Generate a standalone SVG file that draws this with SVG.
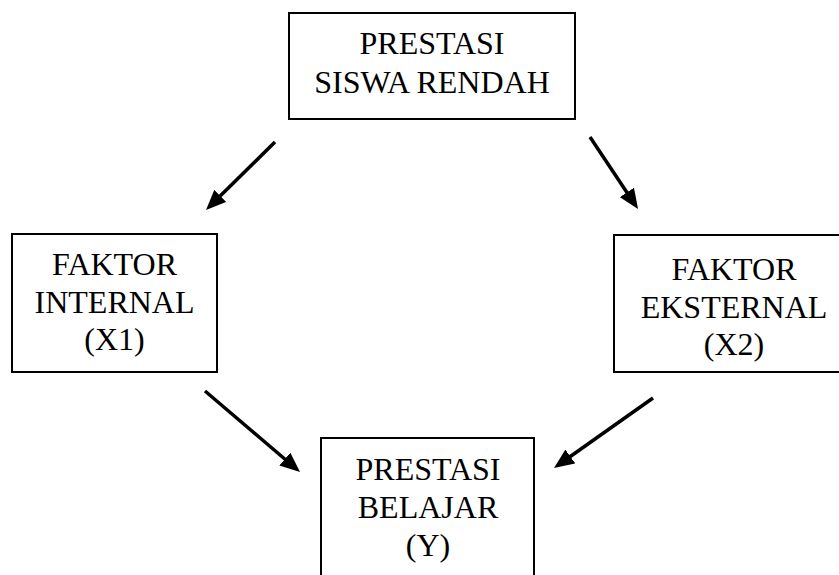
<svg xmlns="http://www.w3.org/2000/svg" width="839" height="575" viewBox="0 0 839 575">
<style>
.box{fill:#fff;stroke:#000;stroke-width:2}
.t{font-family:"Liberation Serif","Times New Roman",serif;font-size:32px;fill:#000;text-anchor:middle}
.c{stroke:#000;stroke-width:3.5;fill:none}
</style>
<defs>
<marker id="ah" markerUnits="userSpaceOnUse" markerWidth="20" markerHeight="17" refX="13" refY="8.5" orient="auto" viewBox="0 0 20 17">
<path d="M0,0 L20,8.5 L0,17 z" fill="#000"/>
</marker>
</defs>
<rect width="839" height="575" fill="#fff"/>
<g id="connectors">
<line class="c" x1="275" y1="142" x2="211" y2="205.1" marker-end="url(#ah)"/>
<line class="c" x1="590" y1="137" x2="634.1" y2="203.2" marker-end="url(#ah)"/>
<line class="c" x1="205" y1="391" x2="294.7" y2="467.5" marker-end="url(#ah)"/>
<line class="c" x1="653" y1="398" x2="559.7" y2="464" marker-end="url(#ah)"/>
</g>
<g id="prestasi-siswa-rendah">
<rect class="box" x="289" y="13" width="286" height="106"/>
<text class="t" x="432" y="54">PRESTASI</text>
<text class="t" x="432" y="93">SISWA RENDAH</text>
</g>
<g id="faktor-internal">
<rect class="box" x="12" y="234" width="205" height="138"/>
<text class="t" x="114.5" y="275">FAKTOR</text>
<text class="t" x="114.5" y="313">INTERNAL</text>
<text class="t" x="114.5" y="350">(X1)</text>
</g>
<g id="faktor-eksternal">
<rect class="box" x="614" y="235" width="230" height="137"/>
<text class="t" x="734" y="280">FAKTOR</text>
<text class="t" x="734" y="318">EKSTERNAL</text>
<text class="t" x="734" y="355">(X2)</text>
</g>
<g id="prestasi-belajar">
<rect class="box" x="321" y="438" width="213" height="150"/>
<text class="t" x="428" y="480">PRESTASI</text>
<text class="t" x="428" y="518">BELAJAR</text>
<text class="t" x="428" y="556">(Y)</text>
</g>
</svg>
